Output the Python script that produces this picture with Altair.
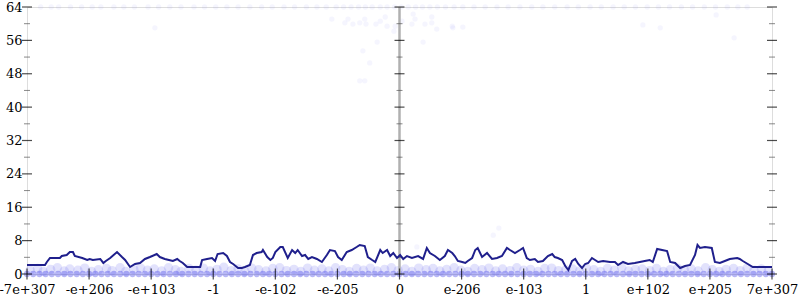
import json
import altair as alt
import pandas as pd

# ---- data ----
x_labels = ['-7e+307', '-e+206', '-e+103', '-1', '-e-102', '-e-205', '0',
            'e-206', 'e-103', '1', 'e+102', 'e+205', '7e+307']
x_ticks = [-6, -5, -4, -3, -2, -1, 0, 1, 2, 3, 4, 5, 6]
y_major = [0, 8, 16, 24, 32, 40, 48, 56, 64]
y_minor = [4, 12, 20, 28, 36, 44, 52, 60]
axis_pos = [-6, 0, 6]

line_x = [-6.0, -5.71, -5.68, -5.63, -5.47, -5.44, -5.36, -5.31, -5.26, -5.23, -5.11, -5.03, -4.99, -4.94,
          -4.82, -4.77, -4.73, -4.66, -4.55, -4.47, -4.42, -4.34, -4.26, -4.18, -4.10, -4.02, -3.91, -3.86,
          -3.78, -3.65, -3.58, -3.54, -3.49, -3.42, -3.21, -3.18, -3.10, -3.02, -2.97, -2.93, -2.84, -2.78,
          -2.73, -2.68, -2.60, -2.54, -2.49, -2.41, -2.36, -2.30, -2.22, -2.20, -2.13, -2.08, -2.04, -2.00,
          -1.92, -1.88, -1.80, -1.73, -1.68, -1.64, -1.57, -1.52, -1.47, -1.41, -1.33, -1.25, -1.17, -1.12,
          -1.04, -0.99, -0.93, -0.85, -0.77, -0.69, -0.64, -0.56, -0.51, -0.44, -0.39, -0.31, -0.27, -0.20,
          -0.15, -0.10, -0.04, 0.01, 0.06, 0.12, 0.20, 0.30, 0.38, 0.44, 0.49, 0.57, 0.65, 0.73, 0.78, 0.85,
          0.89, 0.94, 1.01, 1.06, 1.10, 1.17, 1.22, 1.26, 1.33, 1.41, 1.49, 1.57, 1.65, 1.73, 1.78, 1.86,
          1.94, 1.99, 2.05, 2.10, 2.18, 2.23, 2.31, 2.39, 2.46, 2.50, 2.55, 2.62, 2.67, 2.72, 2.78, 2.83,
          2.88, 2.94, 2.99, 3.04, 3.10, 3.15, 3.20, 3.28, 3.39, 3.47, 3.52, 3.60, 3.68, 3.79, 3.87, 3.95,
          4.03, 4.08, 4.15, 4.23, 4.31, 4.36, 4.44, 4.52, 4.60, 4.68, 4.76, 4.80, 4.84, 4.92, 5.03, 5.08,
          5.16, 5.24, 5.32, 5.44, 5.48, 5.53, 5.61, 5.69, 6.0]
line_y = [2.16, 2.16, 2.88, 3.84, 3.84, 4.31, 4.55, 5.27, 5.27, 4.31, 3.84, 3.36, 3.60, 3.36,
          3.60, 2.64, 3.12, 3.84, 5.27, 4.07, 3.36, 1.68, 2.40, 2.64, 3.60, 4.07, 4.79, 4.07,
          3.60, 3.12, 3.60, 3.12, 2.64, 1.68, 1.68, 3.36, 3.60, 3.84, 3.12, 4.79, 5.03, 4.31,
          2.88, 2.40, 1.44, 1.44, 1.68, 2.16, 4.55, 5.03, 5.27, 5.75, 4.07, 3.36, 3.84, 5.27,
          6.47, 6.47, 3.84, 5.75, 5.03, 5.75, 4.31, 4.55, 3.60, 4.07, 3.60, 2.88, 4.55, 5.75,
          5.51, 4.07, 3.36, 5.27, 5.75, 6.47, 6.95, 6.71, 4.07, 3.36, 2.88, 5.75, 5.03, 5.75,
          4.31, 5.03, 3.84, 4.55, 3.60, 4.31, 3.84, 4.31, 3.60, 6.23, 5.03, 4.31, 3.36, 4.31, 5.75, 5.03,
          4.31, 3.12, 2.88, 2.64, 3.12, 3.84, 5.75, 6.23, 4.07, 5.03, 3.60, 3.84, 4.31, 6.23, 5.75, 5.03,
          5.75, 6.23, 3.84, 3.36, 3.60, 2.88, 3.12, 4.31, 4.79, 4.07, 3.84, 3.36, 1.92, 0.96, 3.12, 3.60,
          2.40, 1.44, 2.40, 2.64, 3.84, 3.36, 2.88, 3.12, 2.88, 2.88, 2.16, 2.88, 2.40, 2.64, 2.88, 3.12,
          3.36, 2.88, 5.99, 5.75, 5.51, 2.88, 2.64, 1.44, 1.92, 2.16, 4.55, 6.95, 6.23, 6.47, 6.23, 2.88,
          2.64, 3.12, 3.60, 3.84, 3.60, 3.12, 2.40, 1.68, 1.68]

zero_x = [-6.0, -5.9, -5.8, -5.7, -5.6, -5.5, -5.4, -5.3, -5.2, -5.1, -5.0, -4.9, -4.8, -4.7, -4.6,
          -4.5, -4.4, -4.3, -4.2, -4.1, -4.0, -3.9, -3.8, -3.7, -3.6, -3.5, -3.4, -3.3, -3.2, -3.1,
          -3.0, -2.9, -2.8, -2.7, -2.6, -2.5, -2.4, -2.3, -2.2, -2.1, -2.0, -1.9, -1.8, -1.7, -1.6,
          -1.5, -1.4, -1.3, -1.2, -1.1, -1.0, -0.9, -0.8, -0.7, -0.6, -0.5, -0.4, -0.3, -0.2, -0.1,
          0.0, 0.1, 0.2, 0.3, 0.4, 0.5, 0.6, 0.7, 0.8, 0.9, 1.0, 1.1, 1.2, 1.3, 1.4, 1.5, 1.6, 1.7,
          1.8, 1.9, 2.0, 2.1, 2.2, 2.3, 2.4, 2.5, 2.6, 2.7, 2.8, 2.9, 3.0, 3.1, 3.2, 3.3, 3.4, 3.5,
          3.6, 3.7, 3.8, 3.9, 4.0, 4.1, 4.2, 4.3, 4.4, 4.5, 4.6, 4.7, 4.8, 4.9, 5.0, 5.1, 5.2, 5.3,
          5.4, 5.5, 5.6, 5.7, 5.8, 5.9, 6.0]

band_x = [-5.95, -5.83, -5.74, -5.62, -5.51, -5.40, -5.31, -5.18, -5.07, -4.96,
          -4.85, -4.72, -4.63, -4.50, -4.41, -4.28, -4.17, -4.06, -3.95, -3.83,
          -3.72, -3.61, -3.52, -3.39, -3.28, -3.16, -3.05, -2.94, -2.83, -2.71,
          -2.60, -2.49, -2.38, -2.27, -2.15, -2.04, -1.93, -1.82, -1.70, -1.59,
          -1.48, -1.37, -1.25, -1.14, -1.03, -0.92, -0.81, -0.69, -0.58, -0.47,
          -0.36, -0.24, -0.13, -0.02, 0.09, 0.20, 0.31, 0.43, 0.54, 0.65,
          0.76, 0.88, 0.99, 1.10, 1.21, 1.33, 1.44, 1.55, 1.66, 1.78,
          1.89, 2.00, 2.11, 2.23, 2.34, 2.45, 2.56, 2.68, 2.79, 2.90,
          3.01, 3.13, 3.24, 3.35, 3.46, 3.58, 3.69, 3.80, 3.91, 4.03,
          4.14, 4.25, 4.36, 4.48, 4.59, 4.70, 4.81, 4.93, 5.04, 5.15,
          5.26, 5.38, 5.49, 5.60, 5.71, 5.83, 5.94]
band_y = [0.9, 1.3, 0.6, 1.1, 1.5, 0.7, 1.2, 0.9, 1.4, 0.6,
          1.0, 1.3, 0.8, 1.5, 0.6, 1.1, 1.4, 0.9, 1.2, 0.7,
          1.5, 1.0, 0.6, 1.3, 0.9, 1.4, 0.7, 1.1, 1.6, 0.8,
          1.2, 0.6, 1.4, 1.0, 0.7, 1.3, 1.5, 0.8, 1.1, 0.6,
          1.4, 0.9, 1.2, 0.7, 1.5, 1.0, 0.6, 1.3, 0.9, 1.4,
          0.7, 1.1, 1.5, 0.8, 1.2, 0.6, 1.4, 1.0, 1.3, 0.7,
          1.1, 1.5, 0.9, 0.6, 1.3, 1.0, 1.4, 0.7, 1.2, 0.8,
          1.5, 0.9, 1.1, 0.6, 1.3, 1.4, 0.8, 1.0, 1.2, 0.7,
          1.4, 1.0, 0.6, 1.3, 0.9, 1.5, 0.7, 1.1, 1.2, 0.8,
          1.3, 0.6, 1.0, 1.4, 0.9, 1.2, 0.7, 1.5, 1.0, 0.6,
          1.1, 1.3, 0.8, 1.4, 0.9, 1.2, 0.7]

top_x = [-5.78, -5.61, -5.49, -5.30, -5.12, -4.95, -4.81, -4.60, -4.44, -4.27, -4.05, -3.88,
         -3.70, -3.52, -3.31, -3.14, -2.96, -2.78, -2.60, -2.41, -2.22, -2.05, -1.86, -1.69,
         -1.50, -1.33, -1.18, -1.02, -0.90, -0.78, -0.66, -0.55, -0.44, -0.31, -0.20, -0.08,
         0.03, 0.14, 0.26, 0.37, 0.49, 0.61, 0.74, 0.88, 1.02, 1.20, 1.38, 1.57, 1.75, 1.94,
         2.13, 2.31, 2.50, 2.70, 2.88, 3.07, 3.25, 3.44, 3.62, 3.80, 3.99, 4.17, 4.35, 4.54,
         4.72, 4.91, 5.09, 5.28, 5.45, 5.60]

scatter_x = [-1.09, -0.88, -0.83, -0.75, -0.64, -0.56, -0.54, -0.38, -0.36, -0.31, -0.23, -0.20,
             -0.09, -0.07, 0.04, 0.20, 0.22, 0.25, 0.38, 0.41, 0.52, 0.52, 0.60, 0.85, 0.86, 1.02,
             -0.59, -0.48, -0.64, -0.56, -3.94, 3.92, 4.20, 5.10, 5.39, 0.28, 1.51, 1.60]
scatter_y = [61.1, 60.2, 61.1, 59.9, 60.2, 61.1, 59.9, 59.9, 55.6, 60.6, 61.6, 59.4,
             58.2, 59.4, 60.6, 59.9, 62.3, 61.1, 55.6, 59.9, 61.6, 60.2, 58.7, 59.4, 59.0, 59.2,
             53.5, 50.6, 46.3, 46.3, 59.0, 59.7, 59.0, 62.1, 56.6, 6.5, 9.3, 11.0]

# ---- tables ----
line_df = pd.DataFrame({"x": line_x, "y": line_y})
zero_df = pd.DataFrame({"x": zero_x, "y": [0] * len(zero_x)})
band_df = pd.DataFrame({"x": band_x, "y": band_y})
sparse_df = pd.DataFrame({"x": top_x + scatter_x,
                          "y": [64] * len(top_x) + scatter_y})
ymaj_df = pd.DataFrame([{"x": a, "y": v} for a in axis_pos for v in y_major])
ymin_df = pd.DataFrame([{"x": a, "y": v} for a in axis_pos for v in y_minor])
xt_df = pd.DataFrame({"x": x_ticks, "y": [0] * len(x_ticks)})
mid_df = pd.DataFrame({"x": [0], "y": [0], "y2": [64]})

xscale = alt.Scale(domain=[-6, 6], nice=False, zero=False)
yscale = alt.Scale(domain=[0, 64], nice=False, zero=False)
label_expr = json.dumps(x_labels) + "[datum.value + 6]"

FONT = "DejaVu Serif"
X = alt.X("x:Q", scale=xscale, title=None,
          axis=alt.Axis(values=x_ticks, labelExpr=label_expr, ticks=False, domain=False,
                        grid=False, labelPadding=9, labelFlush=False, labelOverlap=False,
                        labelFont=FONT, labelFontSize=13, labelColor="black"))
Y = alt.Y("y:Q", scale=yscale, title=None,
          axis=alt.Axis(values=y_major, ticks=False, domain=False, grid=False,
                        labelPadding=5, labelOverlap=False,
                        labelFont=FONT, labelFontSize=13, labelColor="black"))

band_pts = alt.Chart(band_df).mark_circle(size=90, color="#7070f0", opacity=0.2).encode(x=X, y=Y)
zero_pts = alt.Chart(zero_df).mark_circle(size=40, color="#3030e6", opacity=0.35).encode(x=X, y=Y)
sparse_pts = alt.Chart(sparse_df).mark_circle(size=28, color="#5050ee", opacity=0.06).encode(x=X, y=Y)

mid_axis = alt.Chart(mid_df).mark_rule(color="#b0b0b0", strokeWidth=2.5).encode(
    x=X, y=Y, y2="y2:Q")
ymaj = alt.Chart(ymaj_df).mark_tick(orient="horizontal", size=10, thickness=1.2,
                                    color="black").encode(x=X, y=Y)
ymin = alt.Chart(ymin_df).mark_tick(orient="horizontal", size=6, thickness=1,
                                    color="#555555").encode(x=X, y=Y)
xt = alt.Chart(xt_df).mark_tick(orient="vertical", size=11, thickness=1.2,
                                color="black").encode(x=X, y=Y)
line = alt.Chart(line_df).mark_line(color="#1f1f8c", strokeWidth=2).encode(x=X, y=Y)

chart = alt.layer(band_pts, zero_pts, sparse_pts, mid_axis, ymin, ymaj, xt, line).properties(
    width=745, height=267,
    autosize=alt.AutoSizeParams(type="none"),
    padding={"left": 27, "top": 7, "right": 28, "bottom": 26},
).configure_view(
    stroke="#b0b0b0", strokeWidth=2.5
).configure(background="white")

chart.save("out.html", embed_options={"renderer": "svg", "actions": False})
